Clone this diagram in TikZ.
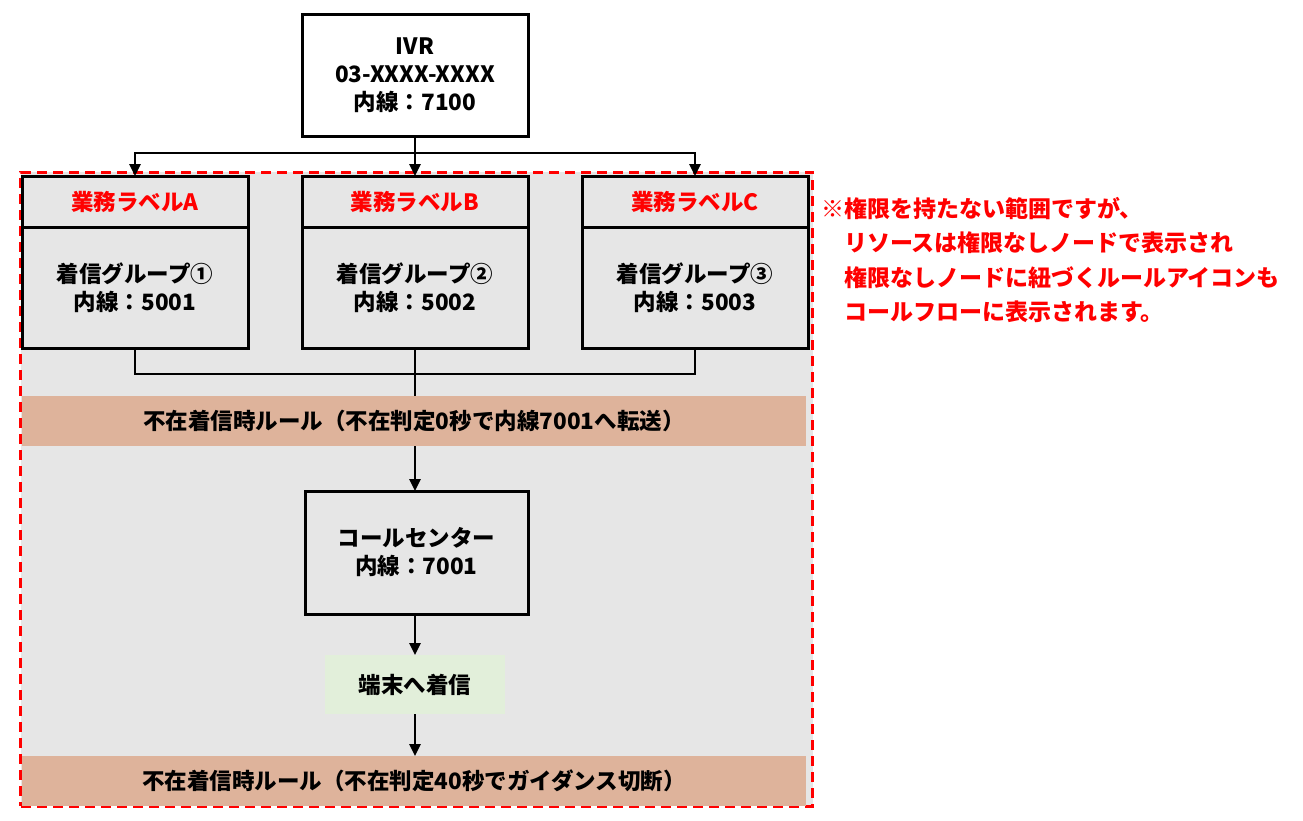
\documentclass[tikz,border=0pt]{standalone}
\usepackage{fontspec}
\setmainfont{Noto Sans CJK JP}
\usetikzlibrary{arrows.meta}
\definecolor{bggray}{HTML}{E6E6E6}
\definecolor{ruletan}{HTML}{DEB39B}
\definecolor{termgreen}{HTML}{E2EFDA}
\definecolor{notered}{HTML}{FF0000}
\tikzset{
  txt/.style={font=\bfseries\fontsize{22.5}{28}\selectfont, align=center, inner sep=0pt, outer sep=0pt},
  box/.style={txt, draw=black, line width=3pt, minimum width=226pt},
  hdr/.style={box, minimum height=51pt, text=notered},
  body/.style={box, minimum height=121pt, fill=bggray},
  rulebar/.style={txt, fill=ruletan, minimum width=784pt, minimum height=50pt},
  conn/.style={line width=2.6pt, draw=black},
  arr/.style={conn, -{Triangle[length=12pt,width=11pt]}},
}
\begin{document}
\begin{tikzpicture}[x=1pt,y=-1pt]
\useasboundingbox (0,0) rectangle (1303,820);
% permission area
\node[draw=notered, line width=3pt, dash pattern=on 10pt off 6pt, fill=bggray,
      minimum width=792pt, minimum height=634pt, inner sep=0pt] (area) at (416.5,489) {};
% IVR
\node[box, minimum height=122pt] (ivr) at (415,75) {IVR\\03-XXXX-XXXX\\内線：7100};
% business label boxes
\node[hdr, fill=bggray] (ha) at (135,201.5) {業務ラベルA};
\node[hdr, fill=bggray] (hb) at (415,201.5) {業務ラベルB};
\node[hdr, fill=bggray] (hc) at (695,201.5) {業務ラベルC};
\node[body, anchor=north] (ba) at (ha.south) {着信グループ①\\内線：5001};
\node[body, anchor=north] (bb) at (hb.south) {着信グループ②\\内線：5002};
\node[body, anchor=north] (bc) at (hc.south) {着信グループ③\\内線：5003};
% rule bars
\node[rulebar] (r1) at (414,421) {不在着信時ルール（不在判定0秒で内線7001へ転送）};
\node[rulebar] (r2) at (414,781) {不在着信時ルール（不在判定40秒でガイダンス切断）};
% call center
\node[box, minimum width=223pt, minimum height=123pt, fill=bggray] (cc) at (416.5,552.5) {コールセンター\\内線：7001};
% terminal
\node[txt, fill=termgreen, minimum width=180pt, minimum height=59pt] (tm) at (415,684.5) {端末へ着信};
% note
\node[txt, align=left, anchor=north west, text=notered, font=\bfseries\fontsize{23}{34.5}\selectfont] (note) at (821,197)
  {※権限を持たない範囲ですが、\\　リソースは権限なしノードで表示され\\　権限なしノードに紐づくルールアイコンも\\　コールフローに表示されます。};
% connectors
\coordinate (jt) at (415,153);
\coordinate (jb) at (415,374);
\draw[conn] (ivr.south) -- (jt);
\draw[arr] (jt) -| (ha.north);
\draw[arr] (jt) -- (hb.north);
\draw[arr] (jt) -| (hc.north);
\draw[conn] (ba.south) |- (jb);
\draw[conn] (bc.south) |- (jb);
\draw[conn] (bb.south) -- (jb) -- (r1.north -| jb);
\draw[arr] (r1.south -| jb) -- (cc.north -| jb);
\draw[arr] (cc.south -| jb) -- (tm.north -| jb);
\draw[arr] (tm.south -| jb) -- (r2.north -| jb);
\end{tikzpicture}
\end{document}
